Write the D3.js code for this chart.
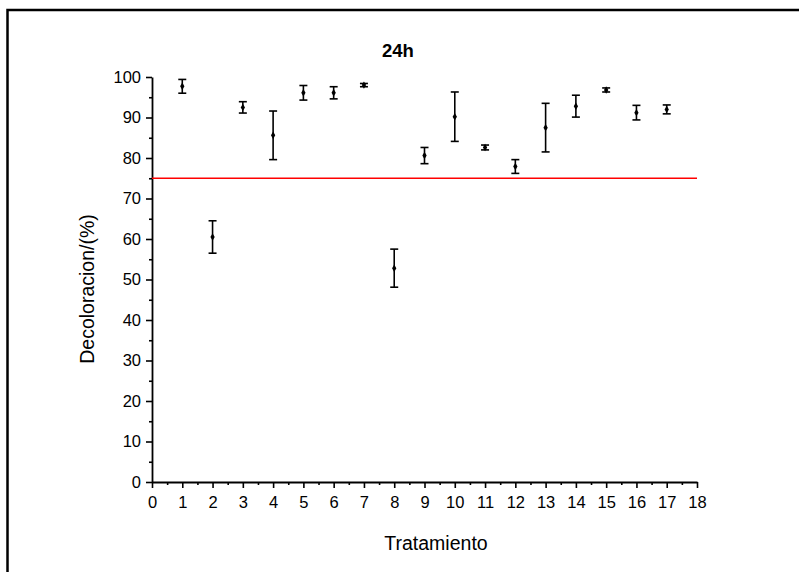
<!DOCTYPE html>
<html>
<head>
<meta charset="utf-8">
<script src="https://cdn.jsdelivr.net/npm/d3@7"></script>
<style>
  body { margin: 0; background: #fff; }
  text { font-family: Arial, "Liberation Sans", sans-serif; }
</style>
</head>
<body>
<svg id="chart" width="799" height="572"></svg>
<script>
// data
const treatments = [1, 2, 3, 4, 5, 6, 7, 8, 9, 10, 11, 12, 13, 14, 15, 16, 17];
const decoloration = [97.7, 60.5, 92.5, 85.6, 96.1, 96.1, 98.0, 52.8, 80.6, 90.2, 82.6, 77.9, 87.5, 92.8, 96.8, 91.2, 92.0];
const errors = [1.7, 4.0, 1.4, 6.0, 1.8, 1.5, 0.4, 4.7, 2.0, 6.1, 0.6, 1.7, 6.0, 2.7, 0.5, 1.8, 1.1];
const xTicks = d3.range(0, 19);
const yTicks = d3.range(0, 101, 10);
const threshold = 75;

const svg = d3.select("#chart");

// frame around the picture (top and left edges only visible)
svg.append("path")
    .attr("d", "M 7.5 572 L 7.5 10 L 799 10")
    .attr("fill", "none")
    .attr("stroke", "#000")
    .attr("stroke-width", 2.5);

const x = d3.scaleLinear().domain([0, 18]).range([152, 697]);
const y = d3.scaleLinear().domain([0, 100]).range([482, 77]);

// x axis with minor ticks
const xMinor = d3.axisBottom(x).tickValues(d3.range(0.5, 18, 1)).tickSize(3).tickFormat("");
const gxm = svg.append("g").attr("transform", "translate(0,482)").call(xMinor);
const gx = svg.append("g").attr("transform", "translate(0,482)")
    .call(d3.axisBottom(x).tickValues(xTicks).tickSize(6).tickSizeOuter(0).tickPadding(8));
gx.selectAll("text").attr("font-size", 16.5).attr("fill", "#000");

// y axis with minor ticks
const yMinor = d3.axisLeft(y).tickValues(d3.range(5, 100, 10)).tickSize(3).tickFormat("");
const gym = svg.append("g").attr("transform", "translate(152,0)").call(yMinor);
const gy = svg.append("g").attr("transform", "translate(152,0)")
    .call(d3.axisLeft(y).tickValues(yTicks).tickSize(6).tickSizeOuter(0).tickPadding(5));
gy.selectAll("text").attr("font-size", 16.5).attr("fill", "#000");

[gx, gy, gxm, gym].forEach(g => {
    g.select(".domain").attr("stroke", "#000").attr("stroke-width", 1.8);
    g.selectAll(".tick line").attr("stroke", "#000").attr("stroke-width", 1.6);
});
gxm.select(".domain").remove();
gym.select(".domain").remove();

// threshold line
svg.append("line")
    .attr("x1", x(0)).attr("x2", x(18))
    .attr("y1", y(threshold)).attr("y2", y(threshold))
    .attr("stroke", "#ff0000")
    .attr("stroke-width", 1.3);

// error bars
const pts = treatments.map((t, i) => ({ t: t, v: decoloration[i], e: errors[i] }));
const bars = svg.append("g").selectAll("g").data(pts).enter().append("g")
    .attr("stroke", "#000").attr("stroke-width", 1.6);
bars.append("line")
    .attr("x1", d => x(d.t)).attr("x2", d => x(d.t))
    .attr("y1", d => y(d.v + d.e)).attr("y2", d => y(d.v - d.e));
bars.append("line")
    .attr("x1", d => x(d.t) - 4).attr("x2", d => x(d.t) + 4)
    .attr("y1", d => y(d.v + d.e)).attr("y2", d => y(d.v + d.e));
bars.append("line")
    .attr("x1", d => x(d.t) - 4).attr("x2", d => x(d.t) + 4)
    .attr("y1", d => y(d.v - d.e)).attr("y2", d => y(d.v - d.e));

// points
svg.append("g").selectAll("path").data(pts).enter().append("path")
    .attr("d", d3.symbol().type(d3.symbolDiamond).size(16))
    .attr("transform", d => `translate(${x(d.t)},${y(d.v)})`)
    .attr("fill", "#000");

// title
svg.append("text")
    .attr("x", 398).attr("y", 57)
    .attr("text-anchor", "middle")
    .attr("font-size", 18.5)
    .attr("font-weight", "bold")
    .text("24h");

// axis titles
svg.append("text")
    .attr("x", 436).attr("y", 550)
    .attr("text-anchor", "middle")
    .attr("font-size", 19.5)
    .text("Tratamiento");

svg.append("text")
    .attr("transform", "translate(94,289) rotate(-90)")
    .attr("text-anchor", "middle")
    .attr("font-size", 19.5)
    .text("Decoloracion/(%)");
</script>
</body>
</html>
